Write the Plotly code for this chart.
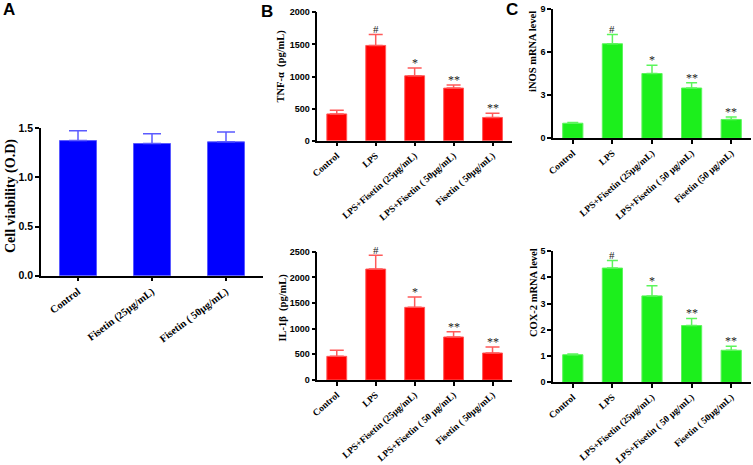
import plotly.graph_objects as go

W, H = 753, 465

# ---------------- data ----------------
cats_a = ["Control", "Fisetin (25μg/mL)", "Fisetin ( 50μg/mL)"]
viab = [1.375, 1.345, 1.362]
viab_err = [0.10, 0.10, 0.10]

cats_tnf = ["Control", "LPS", "LPS+Fisetin (25μg/mL)", "LPS+Fisetin ( 50μg/mL)", "Fisetin ( 50μg/mL)"]
tnf = [417, 1484, 1011, 819, 362]
tnf_err = [58, 172, 120, 47, 66]
tnf_sig = ["", "#", "*", "**", "**"]

cats_il = ["Control", "LPS", "LPS+Fisetin (25μg/mL)", "LPS+Fisetin ( 50 μg/mL)", "Fisetin ( 50μg/mL)"]
il1b = [461, 2162, 1416, 838, 526]
il1b_err = [117, 267, 201, 104, 117]
il1b_sig = ["", "#", "*", "**", "**"]

cats_inos = ["Control", "LPS", "LPS+Fisetin (25μg/mL)", "LPS+Fisetin ( 50 μg/mL)", "Fisetin (50 μg/mL)"]
inos = [1.05, 6.58, 4.51, 3.50, 1.31]
inos_err = [0.05, 0.65, 0.58, 0.37, 0.18]
inos_sig = ["", "#", "*", "**", "**"]

cats_cox = ["Control", "LPS", "LPS+Fisetin (25μg/mL)", "LPS+Fisetin ( 50 μg/mL)", "Fisetin ( 50μg/mL)"]
cox2 = [1.05, 4.35, 3.29, 2.16, 1.22]
cox2_err = [0.03, 0.29, 0.39, 0.27, 0.15]
cox2_sig = ["", "#", "*", "**", "**"]

BLUE, BLUE_E = "#0000ff", "#5a5aff"
RED, RED_E = "#ff0000", "#ff5a5a"
GREEN, GREEN_E = "#1cef1c", "#5cf55c"

SERIF = "Liberation Serif"
SANS = "Liberation Sans"


def px_x(a, b):
    return [a / W, b / W]


def px_y(top, bottom):
    return [1 - bottom / H, 1 - top / H]


panels = [
    ("", cats_a, viab, viab_err, None, BLUE, BLUE_E, 9, 0.5,
     px_x(41, 263), px_y(128.3, 275.7), [0, 1.5], 0.5, ".1f", -37, 10.5, 10.5),
    ("2", cats_tnf, tnf, tnf_err, tnf_sig, RED, RED_E, 7, 0.51,
     px_x(317.3, 512), px_y(12.3, 140.7), [0, 2000], 500, "d", -41, 9.5, 9),
    ("3", cats_inos, inos, inos_err, inos_sig, GREEN, GREEN_E, 5.5, 0.51,
     px_x(553, 751), px_y(9, 138.3), [0, 9], 3, "d", -41, 9.5, 9),
    ("4", cats_il, il1b, il1b_err, il1b_sig, RED, RED_E, 7, 0.51,
     px_x(317.3, 512), px_y(251.7, 380), [0, 2500], 500, "d", -41, 9.5, 9),
    ("5", cats_cox, cox2, cox2_err, cox2_sig, GREEN, GREEN_E, 5.5, 0.51,
     px_x(553, 751), px_y(251, 382.3), [0, 5], 1, "d", -41, 9.5, 9),
]

fig = go.Figure()
layout = {}
annotations = []

for (sfx, cats, vals, errs, sig, col, ecol, capw, barw, xdom, ydom, yr, dt, fmt, ta, xfs, yfs) in panels:
    xa = "x" + sfx
    ya = "y" + sfx
    fig.add_trace(go.Bar(
        x=cats, y=vals, xaxis=xa, yaxis=ya, width=barw,
        marker=dict(color=col, line=dict(color=ecol, width=1)),
        error_y=dict(type="data", array=errs, arrayminus=[0] * len(errs), symmetric=False,
                     color=ecol, thickness=1.5, width=capw),
        cliponaxis=False, showlegend=False, hoverinfo="skip",
    ))
    layout["xaxis" + sfx] = dict(
        domain=xdom, anchor=ya, type="category", range=[-0.5, len(cats) - 0.5],
        showline=True, linecolor="black", linewidth=1.5,
        ticks="outside", ticklen=4, tickwidth=1.5, tickcolor="black",
        tickangle=ta, tickfont=dict(family=SERIF, size=xfs, color="black", weight="bold"),
        showgrid=False, zeroline=False, fixedrange=True, automargin=False,
    )
    layout["yaxis" + sfx] = dict(
        domain=ydom, anchor=xa, range=yr, dtick=dt, tick0=0, tickformat=fmt,
        showline=True, linecolor="black", linewidth=1.5,
        ticks="outside", ticklen=4, tickwidth=1.5, tickcolor="black",
        tickfont=dict(family=SANS, size=yfs, color="black", weight="bold"),
        showgrid=False, zeroline=False, fixedrange=True, automargin=False,
    )
    if sig:
        for c, v, e, s in zip(cats, vals, errs, sig):
            if s:
                annotations.append(dict(
                    x=c, y=v + e, xref=xa, yref=ya, text=s, showarrow=False,
                    yanchor="bottom", yshift=-3 if s == "#" else -4,
                    font=dict(family=SERIF, size=11 if s == "#" else 12, color="#222222"),
                ))

ytitles = [
    ("Cell viability (O.D)", 11, 196, 14),
    ("TNF-α  (pg/mL)", 280.5, 66, 10.5),
    ("IL-1β  (pg/mL)", 282.5, 308, 10.5),
    ("iNOS mRNA level", 533, 52, 10.5),
    ("COX-2 mRNA level", 533, 293, 10.5),
]
for t, xp, yp, fs in ytitles:
    annotations.append(dict(
        x=xp / W, y=1 - yp / H, xref="paper", yref="paper", text=t, showarrow=False,
        textangle=-90, xanchor="center", yanchor="middle",
        font=dict(family=SERIF, size=fs, color="black", weight="bold"),
    ))

for t, xp, yp in [("A", 9, 10), ("B", 267, 12), ("C", 512, 10)]:
    annotations.append(dict(
        x=xp / W, y=1 - yp / H, xref="paper", yref="paper", text=t, showarrow=False,
        xanchor="center", yanchor="middle",
        font=dict(family=SANS, size=17, color="black", weight="bold"),
    ))

fig.update_layout(
    template="none",
    width=W, height=H, autosize=False,
    margin=dict(l=0, r=0, t=0, b=0, pad=0),
    paper_bgcolor="white", plot_bgcolor="white",
    annotations=annotations, bargap=0.5,
    **layout,
)

fig.write_html(
    "out.html",
    config={"displayModeBar": False},
    post_script="document.body.style.margin='0';document.body.style.overflow='hidden';",
)
